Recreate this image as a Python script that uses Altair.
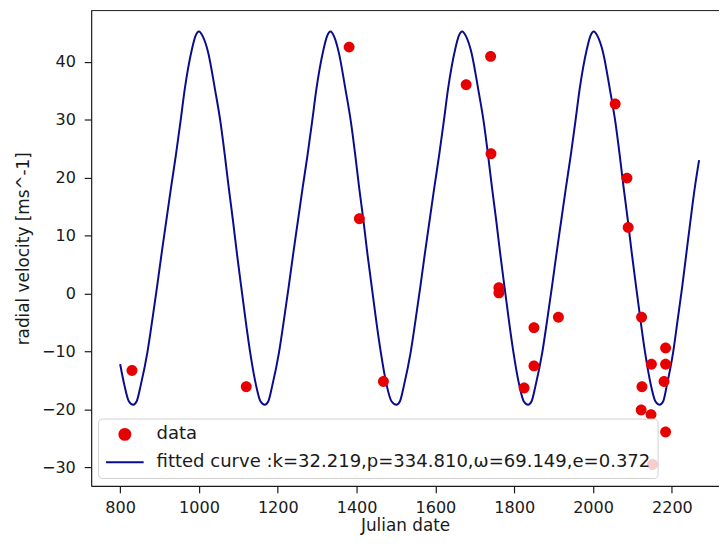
import altair as alt
import pandas as pd

data_x = [830, 1120, 1381, 1407, 1468, 1678, 1740, 1741, 1761, 1761,
          1825, 1850, 1850, 1912, 2056, 2086, 2089, 2123, 2124, 2122,
          2147, 2148, 2180, 2184, 2184, 2184, 2151]
data_y = [-13.3, -16.1, 42.5, 12.9, -15.2, 36.0, 40.9, 24.1, 1.0, 0.1,
          -16.3, -5.9, -12.5, -4.1, 32.7, 19.9, 11.4, -4.1, -16.1, -20.1,
          -20.9, -12.2, -15.2, -9.4, -12.2, -23.9, -29.5]

# ---- fitted curve, points ----
curve_x = [800, 811, 822, 833,
           842, 852, 869, 881.5, 893.5, 905, 917, 929, 941.5, 953, 964, 982, 991, 1000,
           1010, 1023.6, 1040.4, 1054.5, 1065.5, 1075.6, 1086.4, 1096.5, 1107.3, 1118.3, 1130, 1145, 1156, 1167,
           1176, 1186, 1203, 1215.5, 1227.5, 1239, 1251, 1263, 1275.5, 1287, 1298, 1316, 1325, 1334,
           1343, 1355, 1371.5, 1385.5, 1396.5, 1406.5, 1417.5, 1427.5, 1438.5, 1449.5, 1461.5, 1476.5, 1488.5, 1501,
           1510, 1520, 1537, 1549.5, 1561.5, 1573, 1585, 1597, 1609.5, 1621, 1632, 1650, 1659, 1668,
           1678, 1691.6, 1708.4, 1722.5, 1733.5, 1743.6, 1754.4, 1764.5, 1775.3, 1786.3, 1798, 1813, 1824, 1835,
           1844, 1854, 1871, 1883.5, 1895.5, 1907, 1919, 1931, 1943.5, 1955, 1966, 1984, 1993, 2002,
           2012, 2025.6, 2042.4, 2056.5, 2067.5, 2077.6, 2088.4, 2098.5, 2109.3, 2120.3, 2132, 2147, 2158, 2169,
           2178, 2187, 2203, 2214.5, 2226, 2236.5, 2247, 2258, 2269]
curve_y = [-12.2, -15.9, -18.6, -19.2,
           -18.6, -15.9, -10.2, -4.6, 1.1, 6.8, 12.5, 18.2, 23.9, 29.6, 35.3, 42.1, 44.4, 45.2,
           44.3, 41.5, 35.3, 29.6, 23.9, 18.2, 12.5, 6.8, 1.1, -4.6, -10.2, -15.9, -18.6, -19.2,
           -18.6, -15.9, -10.2, -4.6, 1.1, 6.8, 12.5, 18.2, 23.9, 29.6, 35.3, 42.1, 44.4, 45.2,
           44.3, 41.5, 35.3, 29.6, 23.9, 18.2, 12.5, 6.8, 1.1, -4.6, -10.2, -15.9, -18.6, -19.2,
           -18.6, -15.9, -10.2, -4.6, 1.1, 6.8, 12.5, 18.2, 23.9, 29.6, 35.3, 42.1, 44.4, 45.2,
           44.3, 41.5, 35.3, 29.6, 23.9, 18.2, 12.5, 6.8, 1.1, -4.6, -10.2, -15.9, -18.6, -19.2,
           -18.6, -15.9, -10.2, -4.6, 1.1, 6.8, 12.5, 18.2, 23.9, 29.6, 35.3, 42.1, 44.4, 45.2,
           44.3, 41.5, 35.3, 29.6, 23.9, 18.2, 12.5, 6.8, 1.1, -4.6, -10.2, -15.9, -18.6, -19.2,
           -18.6, -15.9, -10.2, -4.6, 1.1, 6.8, 12.5, 18.2, 23.0]

series_names = ["data",
                "fitted curve :k=32.219,p=334.810,\u03c9=69.149,e=0.372"]
x_ticks = [800, 1000, 1200, 1400, 1600, 1800, 2000, 2200]
y_ticks = [-30, -20, -10, 0, 10, 20, 30, 40]
x_domain = [726.5, 2319.5]
y_domain = [-33.2, 48.8]

RED = "#e60000"
BLUE = "#0b0b8e"
INK = "#1a1a1a"
FONT = "DejaVu Sans"
SYM = 1444  # symbol box 38 px: length of the legend line
DOT = "M0.29,0A0.29,0.29,0,1,1,-0.29,0A0.29,0.29,0,1,1,0.29,0Z"

pts = pd.DataFrame({"x": data_x, "y": data_y, "series": series_names[0]})
crv = pd.DataFrame({"x": curve_x, "y": curve_y, "series": series_names[1]})

xs = alt.Scale(domain=x_domain, nice=False, zero=False)
ys = alt.Scale(domain=y_domain, nice=False, zero=False)
cs = alt.Scale(domain=series_names, range=[RED, BLUE])
ss = alt.Scale(domain=series_names, range=[DOT, "stroke"])

legend = alt.Legend(
    title=None, orient="none", legendX=7, legendY=412, direction="vertical",
    symbolSize=SYM, symbolStrokeWidth=2, clipHeight=18, rowPadding=9,
    labelFont=FONT, labelFontSize=18.2, labelColor=INK, labelOffset=12,
    labelLimit=800, padding=7, fillColor="rgba(255,255,255,0.8)",
    strokeColor="#d0d0d0", cornerRadius=4, symbolOpacity=1,
)

x_axis = alt.Axis(values=x_ticks, format="d", title="Julian date", grid=False,
                  tickSize=7, labelPadding=7, titlePadding=2)
y_axis = alt.Axis(values=y_ticks, format="d", title="radial velocity [ms^-1]",
                  grid=False, tickSize=7, labelPadding=9, titlePadding=9)

dots = alt.Chart(pts).mark_point(filled=True, size=SYM, opacity=1).encode(
    x=alt.X("x:Q", scale=xs, axis=x_axis),
    y=alt.Y("y:Q", scale=ys, axis=y_axis),
    color=alt.Color("series:N", scale=cs, legend=legend),
    shape=alt.Shape("series:N", scale=ss, legend=legend),
)

line = alt.Chart(crv).mark_line(strokeWidth=2, interpolate="monotone").encode(
    x=alt.X("x:Q", scale=xs),
    y=alt.Y("y:Q", scale=ys),
    color=alt.Color("series:N", scale=cs, legend=legend),
)

top = alt.Chart(pd.DataFrame({"y": [y_domain[1]]})).mark_rule(
    color=INK, strokeWidth=1).encode(y=alt.Y("y:Q", scale=ys))

chart = alt.layer(line, dots, top).properties(
    width=634, height=480,
    autosize=alt.AutoSizeParams(type="none"),
    padding={"left": 84, "top": 0, "right": 0, "bottom": 50},
).configure_view(stroke=None).configure_axis(
    labelFont=FONT, titleFont=FONT, labelFontSize=16.2, titleFontSize=17,
    titleFontWeight="normal", labelColor=INK, titleColor=INK,
    domainColor=INK, tickColor=INK, domainWidth=1.2, tickWidth=1.2,
)

chart.save("out.html", embed_options={"renderer": "svg", "actions": False})
